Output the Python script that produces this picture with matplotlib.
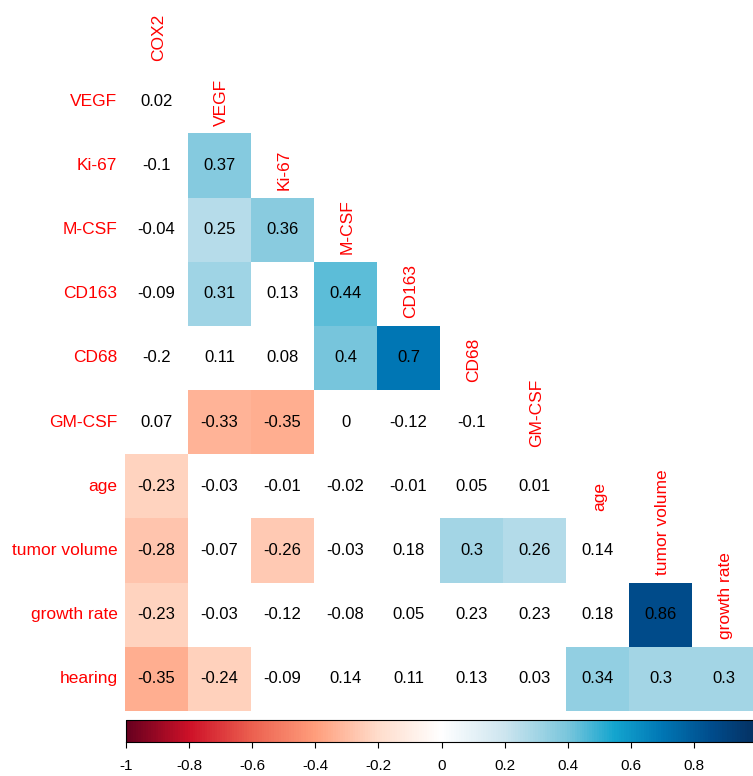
import numpy as np
import matplotlib
matplotlib.use("Agg")
import matplotlib.pyplot as plt
from matplotlib.colors import LinearSegmentedColormap, Normalize
from matplotlib.cm import ScalarMappable

plt.rcParams["font.family"] = ["Liberation Sans", "DejaVu Sans"]

# variable names (columns COX2..growth rate, rows VEGF..hearing)
names = ["COX2", "VEGF", "Ki-67", "M-CSF", "CD163", "CD68", "GM-CSF",
         "age", "tumor volume", "growth rate", "hearing"]
col_names = names[:-1]
row_names = names[1:]

# lower-triangle correlation coefficients, one list per row
r_vegf = [0.02]
r_ki67 = [-0.1, 0.37]
r_mcsf = [-0.04, 0.25, 0.36]
r_cd163 = [-0.09, 0.31, 0.13, 0.44]
r_cd68 = [-0.2, 0.11, 0.08, 0.4, 0.7]
r_gmcsf = [0.07, -0.33, -0.35, 0, -0.12, -0.1]
r_age = [-0.23, -0.03, -0.01, -0.02, -0.01, 0.05, 0.01]
r_tumor = [-0.28, -0.07, -0.26, -0.03, 0.18, 0.3, 0.26, 0.14]
r_growth = [-0.23, -0.03, -0.12, -0.08, 0.05, 0.23, 0.23, 0.18, 0.86]
r_hearing = [-0.35, -0.24, -0.09, 0.14, 0.11, 0.13, 0.03, 0.34, 0.3, 0.3]
corr_rows = [r_vegf, r_ki67, r_mcsf, r_cd163, r_cd68, r_gmcsf,
             r_age, r_tumor, r_growth, r_hearing]

# significance flags (1 = significant, cell gets coloured)
s_vegf = [0]
s_ki67 = [0, 1]
s_mcsf = [0, 1, 1]
s_cd163 = [0, 1, 0, 1]
s_cd68 = [0, 0, 0, 1, 1]
s_gmcsf = [0, 1, 1, 0, 0, 0]
s_age = [1, 0, 0, 0, 0, 0, 0]
s_tumor = [1, 0, 1, 0, 0, 1, 1, 0]
s_growth = [1, 0, 0, 0, 0, 0, 0, 0, 1]
s_hearing = [1, 1, 0, 0, 0, 0, 0, 1, 1, 1]
sig_rows = [s_vegf, s_ki67, s_mcsf, s_cd163, s_cd68, s_gmcsf,
            s_age, s_tumor, s_growth, s_hearing]

cbar_ticks = [-1, -0.8, -0.6, -0.4, -0.2, 0, 0.2, 0.4, 0.6, 0.8]

cmap = LinearSegmentedColormap.from_list("rdbu_corr", [
    (0.00, "#67001F"), (0.10, "#CE1128"), (0.20, "#EC6150"),
    (0.30, "#FF9E7C"), (0.40, "#FFDDCC"), (0.50, "#FFFFFF"),
    (0.60, "#CDE5EF"), (0.70, "#7AC6DC"), (0.775, "#13A5CF"),
    (0.85, "#0077B5"), (0.93, "#004C8C"), (1.00, "#053061")])

n = len(col_names)
# grid with an extra top row for the COX2 label
grid = np.full((n + 1, n), np.nan)
for i, (vals, sig) in enumerate(zip(corr_rows, sig_rows)):
    for j, (v, s) in enumerate(zip(vals, sig)):
        if s:
            grid[i + 1, j] = v

fig = plt.figure(figsize=(7.53, 7.76), dpi=100)
ax = fig.add_axes([125 / 753, 1 - 711 / 776, 630 / 753, 706 / 776])
ax.pcolormesh(np.arange(n + 1) - 0.5, np.arange(n + 2) - 0.5,
              np.ma.masked_invalid(grid), cmap=cmap, vmin=-1, vmax=1)
ax.set_xlim(-0.5, n - 0.5)
ax.set_ylim(n + 0.5, -0.5)
ax.axis("off")

for i, vals in enumerate(corr_rows):
    r = i + 1
    ax.text(-0.5 - 0.12, r, row_names[i], ha="right", va="center",
            color="red", fontsize=12.5, clip_on=False)
    for j, v in enumerate(vals):
        ax.text(j, r, f"{v:g}", ha="center", va="center",
                color="black", fontsize=12)

# diagonal column labels
for j, name in enumerate(col_names):
    ax.text(j + 0.03, j + 0.5 - 0.12, name, rotation=90, ha="center",
            va="bottom", color="red", fontsize=12.5)

# colour legend
cax = fig.add_axes([126 / 753, 1 - 742 / 776, 631 / 753, 22 / 776])
cb = fig.colorbar(ScalarMappable(norm=Normalize(-1, 1), cmap=cmap),
                  cax=cax, orientation="horizontal")
cb.set_ticks(cbar_ticks)
cb.set_ticklabels([f"{t:g}" for t in cbar_ticks])
cb.outline.set_linewidth(0.8)
cax.tick_params(labelsize=11, length=4, width=0.8, pad=8)

fig.savefig("out.png", dpi=100)
